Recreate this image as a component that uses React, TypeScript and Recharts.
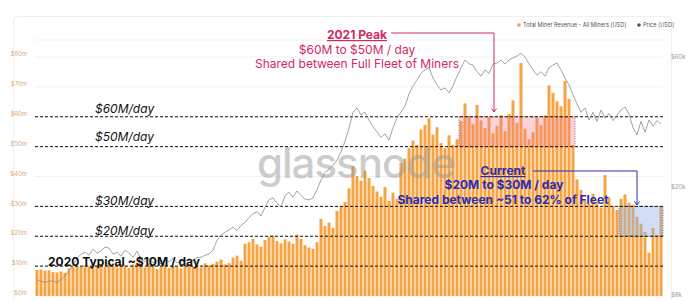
import { ComposedChart, Bar, Line, XAxis, YAxis, CartesianGrid, ReferenceLine, ReferenceArea } from 'recharts';

// total miner revenue, $M per day
const revenueM = [
  8.7, 8.9, 8.5, 8.6, 8.0, 7.9, 8.2, 7.8,
  9.2, 9.8, 10.1, 9.7, 10.3, 10.0, 9.6, 10.2,
  10.4, 9.8, 11.0, 10.2, 9.5, 10.8, 10.1, 9.3, 10.6, 11.2, 10.0, 9.6, 10.9, 10.3,
  9.0, 9.8, 10.5, 9.4, 10.1, 9.7, 9.2, 10.0, 10.8, 9.9, 10.4, 9.6, 10.9, 10.2,
  10.8, 11.5, 12.2, 10.6, 11.0, 12.8, 13.5, 11.8, 17.5,
  18.0, 19.2, 17.3, 16.5, 18.7, 19.8, 20.2, 18.4, 17.6, 19.0, 18.2, 17.5, 20.5, 19.1, 17.0, 16.2, 15.8,
  18.0, 25.8, 23.4, 24.6, 22.8, 28.5, 30.0, 31.5, 36.0,
  43.5, 40.2, 38.6, 42.0, 39.5, 36.8, 35.0, 33.2, 36.5, 31.8, 34.6, 32.5,
  44.5, 46.0, 49.5, 52.0, 50.5, 55.8, 57.2, 59.5, 54.0,
  56.5, 51.2, 49.5, 53.8, 50.6, 52.5, 58.6, 64.5, 60.2, 57.5, 64.0, 58.8,
  56.2, 59.8, 54.5, 57.0, 60.5, 55.2, 61.0, 65.5, 58.0, 78.0,
  56.0, 52.5, 54.8, 59.6, 57.2, 60.5, 70.5, 68.0, 65.2, 63.5, 72.0, 66.0, 50.5, 39.0,
  35.5, 32.0, 30.8, 34.2, 31.5, 29.6, 40.5, 33.0, 30.2, 28.8, 32.5,
  34.0, 31.2, 30.5, 26.5, 24.2, 21.5, 14.5, 22.8, 20.2, 29.8,
];

// BTC price, $k
const priceK = [
  9.1, 9.0, 8.9, 9.0, 9.0, 8.9, 9.1, 9.4, 9.8, 10.3, 10.9, 11.3,
  11.5, 11.2, 11.8, 11.4, 11.6, 12.0, 11.9, 11.3, 11.5, 11.1, 11.7, 11.4, 11.0, 11.6,
  10.8, 10.6, 10.9, 10.5, 10.7, 10.4, 10.8, 10.6, 10.9, 10.5, 10.7, 10.6, 10.9, 10.7, 11.0,
  11.0, 11.2, 11.3, 11.7, 12.7, 13.3, 13.6, 13.9, 14.2, 13.8,
  14.4, 14.8, 15.4, 15.9, 16.2, 15.6, 16.8, 17.9, 18.2, 17.4,
  16.9, 18.5, 19.1, 18.3, 19.3, 18.6, 18.0, 17.9, 18.2, 19.5,
  21.2, 22.6, 23.1, 24.0, 25.1, 26.9, 29.4, 32.9, 37.6, 39.0,
  36.7, 37.6, 35.2, 33.2, 31.8, 30.4, 31.3, 29.7, 33.0, 35.8,
  37.6, 39.6, 43.9, 47.0, 49.4, 52.2, 53.8, 54.8, 50.2, 47.4,
  45.4, 46.2, 44.3, 47.0, 51.0, 54.8, 58.5, 56.7, 56.0, 53.0,
  51.0, 53.8, 52.2, 56.5, 57.0, 58.5, 56.5, 58.5, 59.5, 60.5,
  62.0, 60.0, 56.7, 53.8, 51.5, 53.0, 51.0, 54.8, 56.1, 57.0,
  53.8, 50.2, 47.4, 43.5, 40.3, 37.6, 39.0, 35.2, 37.6, 34.8,
  38.3, 35.8, 37.2, 35.0, 36.7, 38.3, 39.3, 37.0, 33.0, 31.0,
  34.8, 31.7, 35.2, 33.4, 35.0, 34.0,
];

const start = Date.UTC(2020, 0, 1);
const dates = revenueM.map((_, i) => new Date(start + i * 5 * 86400000).toISOString().slice(0, 10));

const revenueTicks = [0, 10, 20, 30, 40, 50, 60, 70, 80];
const priceTicks = [8, 20, 60];
const dayLines = [60, 50, 30, 20, 10];

const data = dates.map((date, i) => ({ date, revenue: revenueM[i], price: priceK[i] }));

const PINK = '#d12a5e';
const BLUE = '#2a2db0';

export default function App() {
  return (
    <div style={{ position: 'fixed', top: 0, left: 0, width: 700, height: 300, background: '#fff', fontFamily: 'Inter, sans-serif' }}>
      <div style={{ position: 'absolute', left: 13, top: 16, width: 657, height: 290, border: '1px solid #f0f0f0', borderRadius: 4 }} />

      <ComposedChart width={700} height={300} data={data} margin={{ top: 40, right: 7, left: 0, bottom: 4 }} barCategoryGap={0.5}>
        <CartesianGrid yAxisId="left" vertical={false} stroke="#f1f1f1" />
        <XAxis dataKey="date" hide />
        <YAxis
          yAxisId="left"
          width={35}
          domain={[0, 85.7]}
          ticks={revenueTicks}
          allowDataOverflow
          axisLine={false}
          tickLine={false}
          tickMargin={2}
          tick={{ fontSize: 6, fill: '#d6a878', dy: -3 }}
          tickFormatter={(v: number) => `$${v}m`}
        />
        <YAxis
          yAxisId="right"
          orientation="right"
          width={30}
          scale="log"
          domain={[7.93, 69.3]}
          ticks={priceTicks}
          allowDataOverflow
          axisLine={false}
          tickLine={false}
          tickMargin={2}
          tick={{ fontSize: 6, fill: '#9a9a9a' }}
          tickFormatter={(v: number) => `$${v}k`}
        />
        <Bar yAxisId="left" dataKey="revenue" fill="#f5a443" isAnimationActive={false} />
        <ReferenceArea zIndex={350} yAxisId="left" x1={dates[106]} x2={dates[134]} y1={50} y2={60} fill="#f07a8c" fillOpacity={0.32} stroke="#8a3a4a" strokeDasharray="1 1.5" strokeWidth={0.8} />
        <ReferenceArea zIndex={350} yAxisId="left" x1={dates[146]} x2={dates[156]} y1={20} y2={30} fill="#8fb2ea" fillOpacity={0.42} stroke="#3a4a7a" strokeDasharray="1 1.5" strokeWidth={0.8} />
        {dayLines.map((v) => (
          <ReferenceLine key={v} zIndex={360} yAxisId="left" y={v} stroke="#111" strokeDasharray="3 2" strokeWidth={1} />
        ))}
        <Line yAxisId="right" dataKey="price" type="linear" stroke="#8c8c8c" strokeWidth={0.8} dot={false} isAnimationActive={false} />
      </ComposedChart>

      <svg width={700} height={300} style={{ position: 'absolute', left: 0, top: 0, pointerEvents: 'none' }}>
        <text x={356} y={178} textAnchor="middle" fontSize={42} fontWeight={500} fill="#999" fillOpacity={0.5} letterSpacing={-1}>glassnode</text>

        {/* legend */}
        <circle cx={519} cy={25} r={1.8} fill="#f5a443" />
        <text x={523} y={27} fontSize={5.6} fill="#555">Total Miner Revenue - All Miners [USD]</text>
        <circle cx={639} cy={25} r={1.8} fill="#555" />
        <text x={643} y={27} fontSize={5.6} fill="#555">Price [USD]</text>

        {/* day level labels */}
        <g fontSize={12} fontStyle="italic" fill="#111">
          <text x={95} y={113}>$60M/day</text>
          <text x={95} y={141}>$50M/day</text>
          <text x={95} y={205}>$30M/day</text>
          <text x={95} y={235}>$20M/day</text>
        </g>
        <text x={48} y={266} fontSize={12} fontWeight={700} fill="#111">2020 Typical ~$10M / day</text>

        {/* 2021 peak */}
        <g fontSize={12} textAnchor="middle" fill={PINK}>
          <text x={357} y={39} fontWeight={700} textDecoration="underline">2021 Peak</text>
          <text x={357} y={54}>$60M to $50M / day</text>
          <text x={357} y={68}>Shared between Full Fleet of Miners</text>
        </g>
        <polyline points="391,33 494,33 494,112" fill="none" stroke={PINK} strokeWidth={1} />
        <polyline points="491.5,108.5 494,112 496.5,108.5" fill="none" stroke={PINK} strokeWidth={1} />

        {/* current */}
        <g fontSize={12} textAnchor="middle" fill={BLUE} fontWeight={700}>
          <text x={503} y={175} textDecoration="underline">Current</text>
          <text x={504} y={189}>$20M to $30M / day</text>
          <text x={503} y={204}>Shared between ~51 to 62% of Fleet</text>
        </g>
        <polyline points="533,171 637,171 637,205" fill="none" stroke={BLUE} strokeWidth={1} />
        <polyline points="634.5,201.5 637,205 639.5,201.5" fill="none" stroke={BLUE} strokeWidth={1} />
      </svg>
    </div>
  );
}
